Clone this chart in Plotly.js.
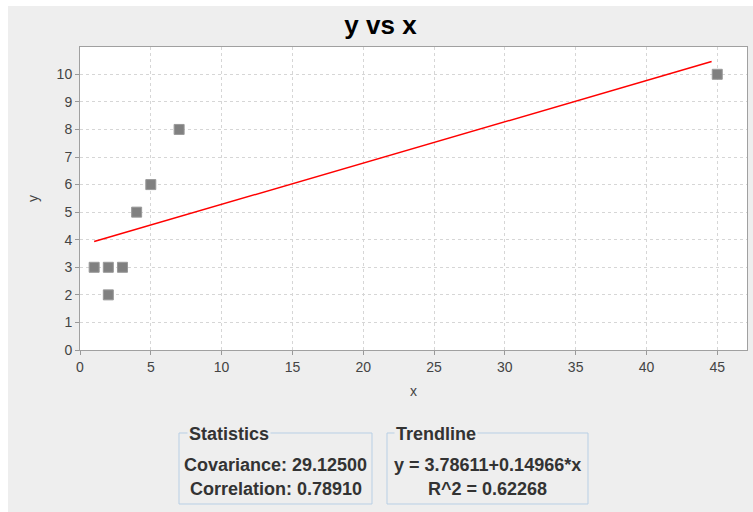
<!DOCTYPE html>
<html>
<head>
<meta charset="utf-8">
<script src="https://cdn.plot.ly/plotly-3.0.1.min.js"></script>
<style>
  html, body { margin: 0; padding: 0; background: #ffffff; width: 753px; height: 512px; overflow: hidden; }
  #chart { position: absolute; left: 8px; top: 6px; width: 745px; height: 506px; }
</style>
</head>
<body>
<div id="chart"></div>
<script>
// ---- data ----
const xValues = [1, 2, 2, 3, 4, 5, 7, 45];
const yValues = [3, 3, 2, 3, 5, 6, 8, 10];
const trendIntercept = 3.78611;
const trendSlope = 0.14966;
const trendXRange = [1, 44.6];
const xTicks = [0, 5, 10, 15, 20, 25, 30, 35, 40, 45];
const yTicks = [0, 1, 2, 3, 4, 5, 6, 7, 8, 9, 10];
const statsTitle = "Statistics";
const statsLines = ["Covariance: 29.12500", "Correlation: 0.78910"];
const trendTitle = "Trendline";
const trendLines = ["y = 3.78611+0.14966*x", "R^2 = 0.62268"];

// ---- layout helpers (page pixels -> paper coords) ----
const PL = 80, PR = 747, PT = 47, PB = 350;
const W = PR - PL, H = PB - PT;
const px = x => (x - PL) / W;
const py = y => (PB - y) / H;

const trendX = trendXRange.slice();
const trendY = trendX.map(x => trendIntercept + trendSlope * x);

const traces = [
  {
    x: trendX, y: trendY, mode: 'lines', type: 'scatter',
    line: { color: '#ff0000', width: 1.5 }, hoverinfo: 'skip', showlegend: false
  },
  {
    x: xValues, y: yValues, mode: 'markers', type: 'scatter',
    marker: { symbol: 'square', size: 10, color: '#808080', line: { color: '#999999', width: 1 } },
    showlegend: false
  }
];

const borderColor = '#b8cfe5';
const boxes = [
  { x0: 179, x1: 372, y0: 433, y1: 504 },
  { x0: 387, x1: 588, y0: 433, y1: 504 }
];
const shapes = boxes.map(b => ({
  type: 'rect', xref: 'paper', yref: 'paper',
  x0: px(b.x0), x1: px(b.x1), y0: py(b.y1), y1: py(b.y0),
  line: { color: borderColor, width: 1 }, fillcolor: 'rgba(0,0,0,0)'
}));

const statFont = { family: 'Liberation Sans, Arial, sans-serif', size: 18, color: '#333333' };
function ann(text, x, y, xanchor, bg) {
  const a = {
    text: '<b>' + text + '</b>', xref: 'paper', yref: 'paper',
    x: px(x), y: py(y), xanchor: xanchor, yanchor: 'middle',
    showarrow: false, font: statFont
  };
  if (bg) { a.bgcolor = '#eeeeee'; a.borderpad = 1; }
  return a;
}
const annotations = [
  ann(statsTitle, 187, 434, 'left', true),
  ann(trendTitle, 394, 434, 'left', true),
  ann(statsLines[0], 275.5, 465, 'center'),
  ann(statsLines[1], 275.5, 489, 'center'),
  ann(trendLines[0], 487.5, 465, 'center'),
  ann(trendLines[1], 487.5, 489, 'center')
];

const tickFont = { family: 'Liberation Sans, Arial, sans-serif', size: 14, color: '#444444' };
const layout = {
  width: 745, height: 506,
  margin: { l: PL - 8, r: 745 - (PR - 8), t: PT - 6, b: 506 - (PB - 6) },
  paper_bgcolor: '#eeeeee', plot_bgcolor: '#ffffff',
  title: {
    text: '<b>y vs x</b>', xref: 'container', x: 0.5, xanchor: 'center',
    yref: 'container', y: 1 - 19 / 506, yanchor: 'middle',
    font: { family: 'Liberation Sans, Arial, sans-serif', size: 26, color: '#000000' }
  },
  xaxis: {
    range: [0, 47.1], tickvals: xTicks, ticktext: xTicks.map(String),
    ticks: 'outside', ticklen: 4, tickcolor: '#999999',
    showline: true, mirror: true, linecolor: '#a0a0a0', linewidth: 1,
    showgrid: true, gridcolor: '#d6d6d6', griddash: '3px,3px', zeroline: false,
    tickfont: tickFont,
    title: { text: 'x', font: { family: 'Liberation Sans, Arial, sans-serif', size: 14, color: '#444444' }, standoff: 12 }
  },
  yaxis: {
    range: [0, 10.99], tickvals: yTicks, ticktext: yTicks.map(String),
    ticks: 'outside', ticklen: 4, tickcolor: '#999999',
    showline: true, mirror: true, linecolor: '#a0a0a0', linewidth: 1,
    showgrid: true, gridcolor: '#d6d6d6', griddash: '3px,3px', zeroline: false,
    tickfont: tickFont,
    title: { text: 'y', font: { family: 'Liberation Sans, Arial, sans-serif', size: 14, color: '#444444' }, standoff: 14 }
  },
  shapes: shapes,
  annotations: annotations
};

Plotly.newPlot('chart', traces, layout, { displayModeBar: false, staticPlot: true });
</script>
</body>
</html>
